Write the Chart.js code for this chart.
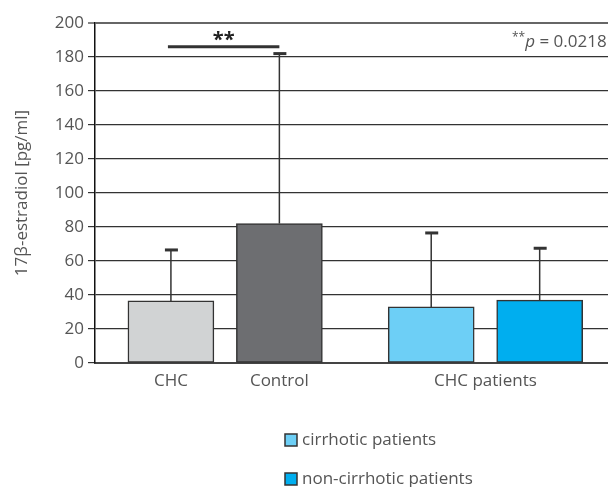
<!DOCTYPE html>
<html>
<head>
<meta charset="utf-8">
<script src="https://cdn.jsdelivr.net/npm/chart.js@4/dist/chart.umd.min.js"></script>
<style>
  html, body { margin: 0; padding: 0; background: #fff; }
</style>
</head>
<body>
<canvas id="c" width="608" height="487"></canvas>
<script>
/* ── 数据 ── */
const barNames = ['CHC', 'Control', 'cirrhotic patients', 'non-cirrhotic patients'];
const means = [36.5, 82, 33, 37];
const sds = [30, 100, 43.5, 30.5];
const groupLabels = ['CHC', 'Control', 'CHC patients'];
const yTicks = [0, 20, 40, 60, 80, 100, 120, 140, 160, 180, 200];
const legendNames = ['cirrhotic patients', 'non-cirrhotic patients'];
const sigLabel = '**';
const pValue = '0.0218';
const yTitle = '17β-estradiol [pg/ml]';

// 布局：柱子在线性 x 轴上的位置
const barSlots = [1, 2, 3.4, 4.4];
const groupSlots = [1, 2, (barSlots[2] + barSlots[3]) / 2];

const colors = ['#d1d3d4', '#6d6e71', '#6dcff6', '#00aeef'];
const ink = '#333';
const textColor = '#555';
const FONT = '"Open Sans", Lato, sans-serif';
const FS = 17;

const errorBars = {
    id: 'errorBars',
    afterDatasetsDraw(chart) {
        const { ctx, scales: { y } } = chart;
        const meta = chart.getDatasetMeta(0);
        ctx.save();
        ctx.strokeStyle = ink;
        meta.data.forEach((bar, i) => {
            const top = y.getPixelForValue(means[i] + sds[i]);
            ctx.lineWidth = 1.5;
            ctx.beginPath();
            ctx.moveTo(bar.x, bar.y);
            ctx.lineTo(bar.x, top);
            ctx.stroke();
            ctx.lineWidth = 3;
            ctx.beginPath();
            ctx.moveTo(bar.x - 6, top);
            ctx.lineTo(bar.x + 7, top);
            ctx.stroke();
        });
        ctx.restore();
    },
};

const annotations = {
    id: 'annotations',
    afterDraw(chart) {
        const { ctx, chartArea, scales: { x, y } } = chart;
        ctx.save();

        // 显著性横线
        const yLine = y.getPixelForValue(186);
        const x0 = x.getPixelForValue(barSlots[0]) - 3;
        const x1 = x.getPixelForValue(barSlots[1]);
        ctx.strokeStyle = ink;
        ctx.lineWidth = 3;
        ctx.beginPath();
        ctx.moveTo(x0, yLine);
        ctx.lineTo(x1, yLine);
        ctx.stroke();
        ctx.fillStyle = '#222';
        ctx.font = 'bold 20px ' + FONT;
        ctx.textAlign = 'center';
        ctx.textBaseline = 'alphabetic';
        ctx.fillText(sigLabel, (x0 + x1) / 2, yLine - 1);

        // **p = 0.0218（右侧被裁切，与原图一致）
        let tx = chartArea.right - 96;
        const base = y.getPixelForValue(186);
        ctx.fillStyle = textColor;
        ctx.textAlign = 'left';
        ctx.font = '12px ' + FONT;
        ctx.fillText(sigLabel, tx, base - 6);
        tx += ctx.measureText(sigLabel).width;
        ctx.font = 'italic ' + FS + 'px ' + FONT;
        ctx.fillText('p', tx, base);
        tx += ctx.measureText('p').width;
        ctx.font = FS + 'px ' + FONT;
        ctx.fillText(' = ' + pValue, tx, base);

        // 图例
        const lx = 285;
        const rows = [440, 479];
        legendNames.forEach((name, i) => {
            const cy = rows[i];
            ctx.fillStyle = colors[i + 2];
            ctx.fillRect(lx, cy - 6, 12, 12);
            ctx.strokeStyle = ink;
            ctx.lineWidth = 1.5;
            ctx.strokeRect(lx, cy - 6, 12, 12);
            ctx.fillStyle = textColor;
            ctx.font = FS + 'px ' + FONT;
            ctx.textBaseline = 'middle';
            ctx.fillText(name, lx + 17, cy);
        });
        ctx.restore();
    },
};

new Chart(document.getElementById('c'), {
    type: 'bar',
    data: {
        datasets: [{
            label: '17β-estradiol',
            data: means.map((m, i) => ({ x: barSlots[i], y: m })),
            backgroundColor: colors,
            borderColor: ink,
            borderWidth: 1.5,
            borderSkipped: false,
            barThickness: 86,
        }],
    },
    options: {
        responsive: false,
        animation: false,
        layout: { padding: { top: 23, right: 0, left: 0, bottom: 0 } },
        plugins: {
            legend: { display: false },
            tooltip: { enabled: false },
        },
        scales: {
            x: {
                type: 'linear',
                min: 0.3,
                max: 5.03,
                offset: false,
                grid: { display: false, drawTicks: false },
                border: { display: true, color: '#444', width: 2 },
                afterBuildTicks: s => { s.ticks = groupSlots.map(v => ({ value: v })); },
                afterFit: s => { s.height = 124; },
                ticks: {
                    padding: 8,
                    color: textColor,
                    font: { family: FONT, size: FS },
                    maxRotation: 0,
                    autoSkip: false,
                    callback: (v, i) => groupLabels[i],
                },
            },
            y: {
                min: 0,
                max: 200,
                afterBuildTicks: s => { s.ticks = yTicks.map(v => ({ value: v })); },
                afterFit: s => { s.width = 95; },
                grid: {
                    color: c => (c.tick && c.tick.value === 200 ? '#666' : ink),
                    lineWidth: c => (c.tick && c.tick.value === 200 ? 2 : 1.2),
                    tickLength: 7,
                    tickColor: ink,
                    tickWidth: 1.2,
                },
                border: { display: true, color: '#111', width: 1.5 },
                ticks: {
                    padding: 4,
                    color: textColor,
                    font: { family: FONT, size: FS },
                },
                title: {
                    display: true,
                    text: yTitle,
                    color: textColor,
                    font: { family: FONT, size: FS },
                    padding: { top: 12 },
                },
            },
        },
    },
    plugins: [errorBars, annotations],
});
</script>
</body>
</html>
